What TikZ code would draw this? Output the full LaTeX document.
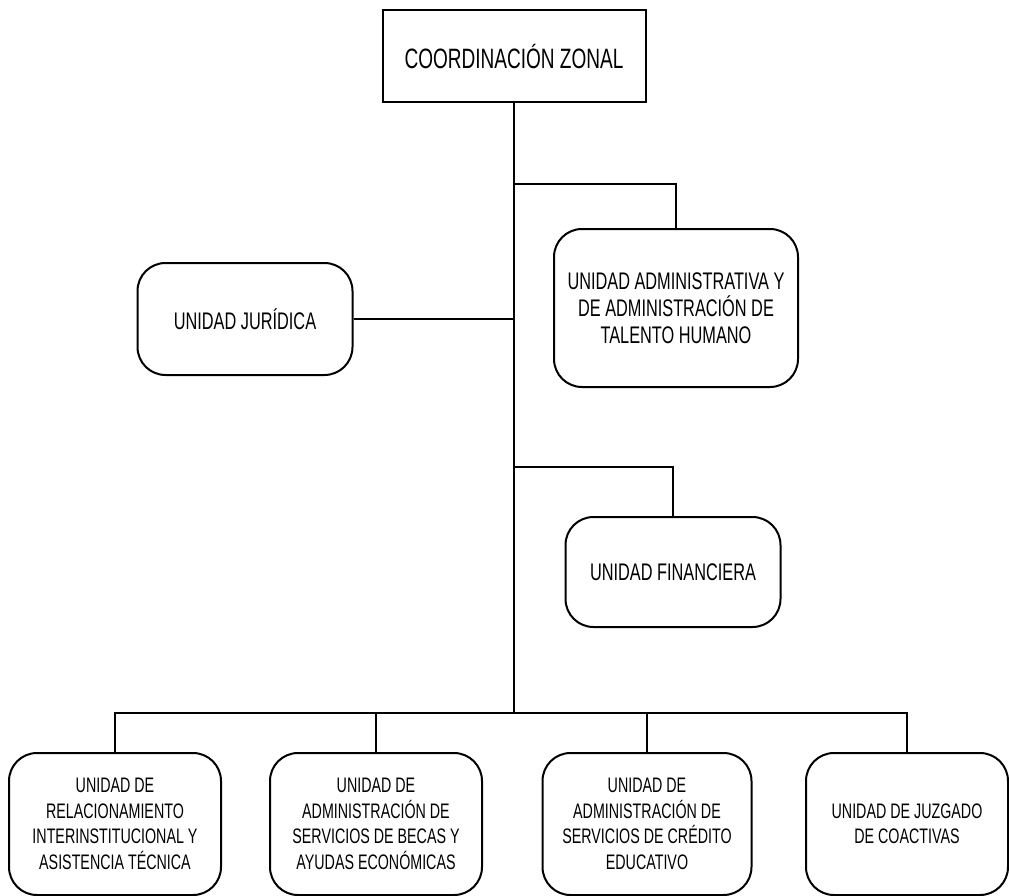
\documentclass[tikz,border=0pt]{standalone}
\usepackage{fontspec}
\setmainfont{Liberation Sans}[FakeStretch=0.68]
\usetikzlibrary{positioning}

\begin{document}
\begin{tikzpicture}[x=1pt, y=-1pt, line width=2pt,
	unitbox/.style={draw, rounded corners=28pt, align=center, inner sep=0pt,
		font=\fontsize{24}{27}\selectfont},
	lowbox/.style={unitbox, minimum width=208pt, minimum height=142pt,
		font=\fontsize{21}{25.5}\selectfont}]
\useasboundingbox (0,0) rectangle (1009,896);
% draw head
	\node[draw, minimum width=263pt, minimum height=92pt, inner sep=0pt,
		font=\fontsize{28}{31}\selectfont] (coord) at (514,56) {COORDINACIÓN ZONAL};
% draw middle units
	\node[unitbox, minimum width=244pt, minimum height=158pt] (admin) at (676,308)
		{UNIDAD ADMINISTRATIVA Y\\DE ADMINISTRACIÓN DE\\TALENTO HUMANO};
	\node[unitbox, minimum width=215pt, minimum height=112pt] (juridica) at (245,319) {UNIDAD JURÍDICA};
	\node[unitbox, minimum width=215pt, minimum height=110pt] (financiera) at (673,572) {UNIDAD FINANCIERA};
% draw lower units
	\node[lowbox, minimum width=212pt] (relacion) at (115,824)
		{UNIDAD DE\\RELACIONAMIENTO\\INTERINSTITUCIONAL Y\\ASISTENCIA TÉCNICA};
	\node[lowbox, minimum width=212pt] (becas) at (376,824)
		{UNIDAD DE\\ADMINISTRACIÓN DE\\SERVICIOS DE BECAS Y\\AYUDAS ECONÓMICAS};
	\node[lowbox, minimum width=209pt] (credito) at (647,824)
		{UNIDAD DE\\ADMINISTRACIÓN DE\\SERVICIOS DE CRÉDITO\\EDUCATIVO};
	\node[lowbox, minimum width=202pt] (juzgado) at (907,824)
		{UNIDAD DE JUZGADO\\DE COACTIVAS};
% draw connectors
	\coordinate (hub) at (514,713);
	\coordinate (split1) at (514,184);
	\coordinate (split2) at (514,467);
	\draw (coord.south) -- (hub);
	\draw (split1) -| (admin.north);
	\draw (split2) -| (financiera.north);
	\draw (juridica.east) -- (juridica.east -| hub);
	\draw (relacion.north) |- (hub) -| (juzgado.north);
	\draw (becas.north) -- (becas.north |- hub);
	\draw (credito.north) -- (credito.north |- hub);
\end{tikzpicture}
\end{document}
